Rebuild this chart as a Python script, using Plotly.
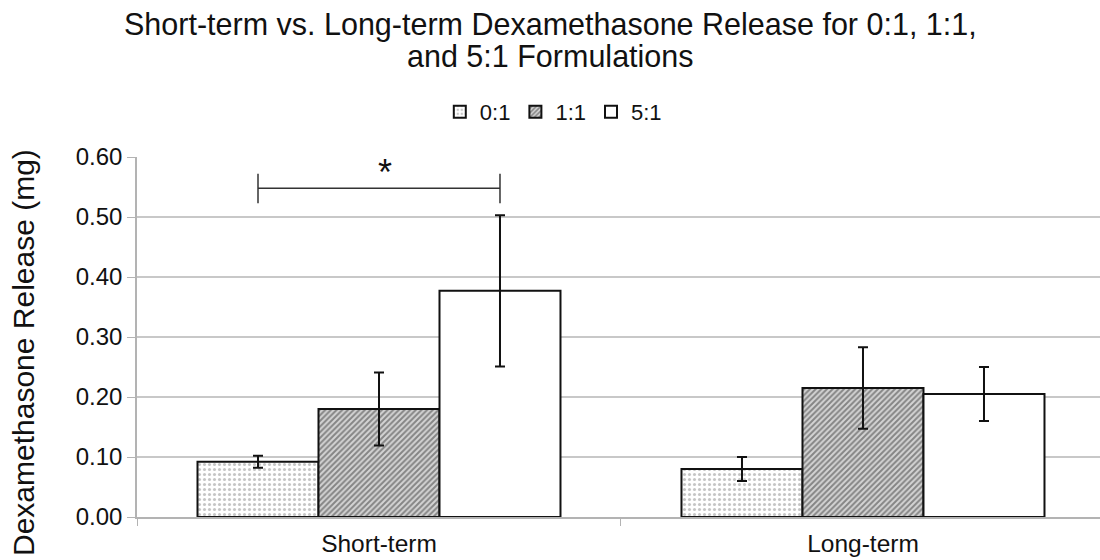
import plotly.graph_objects as go

# Release data (mg): mean and error for each formulation
categories = ["Short-term", "Long-term"]
formulations = ["0:1", "1:1", "5:1"]
release_01 = [0.092, 0.080]
release_11 = [0.180, 0.215]
release_51 = [0.377, 0.205]
error_01 = [0.010, 0.020]
error_11 = [0.061, 0.068]
error_51 = [0.126, 0.045]
y_ticks = [0.0, 0.1, 0.2, 0.3, 0.4, 0.5, 0.6]
y_tick_labels = ["0.00", "0.10", "0.20", "0.30", "0.40", "0.50", "0.60"]

title_lines = [
    "Short-term vs. Long-term Dexamethasone Release for 0:1, 1:1,",
    "and 5:1 Formulations",
]
y_title = "Dexamethasone Release (mg)"

# Significance bracket between 0:1 and 5:1 in the short-term group
sig_level = 0.548
sig_label = "*"

FONT = "Liberation Sans, Arial, sans-serif"
BARGAP = 0.25
# plot area in pixels (used to place free text in paper coordinates)
L, T, B, W, H = 137, 157, 43, 1100, 560
PW, PH = W - L, H - T - B


def px_to_paper(px, py):
    return (px - L) / PW, (H - B - py) / PH


patterns = [
    dict(shape=".", fgcolor="#8c8c8c", bgcolor="white", size=5, solidity=0.3),
    dict(shape="/", fgcolor="#363636", bgcolor="#d4d4d4", size=4, solidity=0.5),
    dict(shape="", fgcolor="white", bgcolor="white"),
]
values = [release_01, release_11, release_51]
errors = [error_01, error_11, error_51]

fig = go.Figure()
for name, vals, errs, pat in zip(formulations, values, errors, patterns):
    fig.add_trace(go.Bar(
        name=name,
        x=categories,
        y=vals,
        marker=dict(color="white", line=dict(color="#111", width=2), pattern=pat),
        error_y=dict(type="data", array=errs, visible=True, color="#111",
                     thickness=2, width=5),
    ))

# bar centres inside a group of three
bar_w = (1 - BARGAP) / 3
left_c = -bar_w
right_c = bar_w

bracket_line = dict(color="#333", width=1.5)
shapes = [
    dict(type="line", xref="x", yref="y", x0=left_c, x1=right_c,
         y0=sig_level, y1=sig_level, line=bracket_line),
    dict(type="line", xref="x", yref="y", x0=left_c, x1=left_c,
         y0=sig_level - 0.025, y1=sig_level + 0.024, line=bracket_line),
    dict(type="line", xref="x", yref="y", x0=right_c, x1=right_c,
         y0=sig_level - 0.025, y1=sig_level + 0.024, line=bracket_line),
]

t1x, t1y = px_to_paper(550, 24)
t2x, t2y = px_to_paper(550, 56)
ytx, yty = px_to_paper(23, 353)

annotations = [
    dict(text=sig_label, xref="x", yref="y", x=0.013, y=0.575,
         yanchor="middle", showarrow=False,
         font=dict(family=FONT, size=36, color="#111")),
    dict(text=title_lines[0], xref="paper", yref="paper", x=t1x, y=t1y,
         xanchor="center", yanchor="middle", showarrow=False,
         font=dict(family=FONT, size=30.5, color="#111")),
    dict(text=title_lines[1], xref="paper", yref="paper", x=t2x, y=t2y,
         xanchor="center", yanchor="middle", showarrow=False,
         font=dict(family=FONT, size=30.5, color="#111")),
    dict(text=y_title, xref="paper", yref="paper", x=ytx, y=yty,
         textangle=-90, showarrow=False, xanchor="center", yanchor="middle",
         font=dict(family=FONT, size=30, color="#111")),
]

fig.update_layout(
    width=W, height=H,
    margin=dict(l=L, r=0, t=T, b=B),
    paper_bgcolor="white", plot_bgcolor="white",
    barmode="group", bargap=BARGAP, bargroupgap=0,
    font=dict(family=FONT, color="#111"),
    legend=dict(
        orientation="h", xref="container", yref="container",
        x=0.503, xanchor="center", y=0.8, yanchor="middle",
        font=dict(family=FONT, size=22, color="#111"),
        itemwidth=30, traceorder="normal",
    ),
    showlegend=True,
    shapes=shapes,
    annotations=annotations,
)

fig.update_xaxes(
    type="category",
    range=[-0.5, 1.4897],
    showline=True, linecolor="#b3b3b3", linewidth=1.5,
    ticks="outside", tickson="boundaries", ticklen=7, tickcolor="#b3b3b3",
    ticklabelstandoff=4,
    tickfont=dict(family=FONT, size=24.5, color="#111"),
    showgrid=False,
)
fig.update_yaxes(
    range=[0, 0.6],
    tickvals=y_ticks, ticktext=y_tick_labels,
    showline=True, linecolor="#b3b3b3", linewidth=1.5,
    ticks="outside", ticklen=8, tickcolor="#b3b3b3",
    tickfont=dict(family=FONT, size=24, color="#111"),
    showgrid=True, gridcolor="#c8c8c8", gridwidth=1.5,
    zeroline=False,
)

fig.write_html("out.html")
